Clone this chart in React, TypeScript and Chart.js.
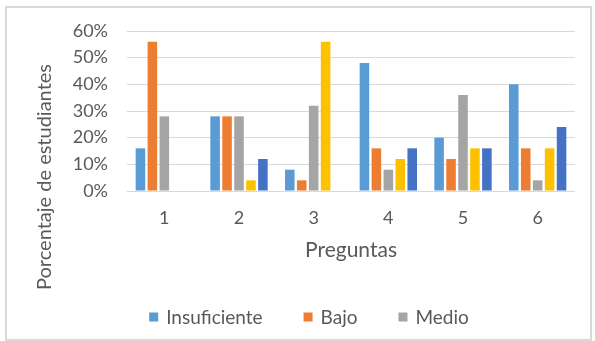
import React, { useEffect, useRef } from "react";
import { Chart, registerables } from "chart.js";

Chart.register(...registerables);

const categories = ["1", "2", "3", "4", "5", "6"];
const seriesNames = ["Insuficiente", "Bajo", "Medio", "Alto", "Superior"];
const insuficiente = [16, 28, 8, 48, 20, 40];
const bajo = [56, 28, 4, 16, 12, 16];
const medio = [28, 28, 32, 8, 36, 4];
const alto = [0, 4, 56, 12, 16, 16];
const superior = [0, 12, 0, 16, 16, 24];
const legendShown = ["Insuficiente", "Bajo", "Medio"];
const yTitle = "Porcentaje de estudiantes";
const xTitle = "Preguntas";
const colors = ["#5B9BD5", "#ED7D31", "#A5A5A5", "#FFC000", "#4472C4"];

const FONT = "Lato, 'Open Sans', sans-serif";
const TXT = "#595959";

export default function App() {
  const ref = useRef<HTMLCanvasElement | null>(null);
  useEffect(() => {
    document.body.style.margin = "0";
    const canvas = ref.current!;
    const values = [insuficiente, bajo, medio, alto, superior];
    const frame = {
      id: "frame",
      beforeDraw(chart: any) {
        const c = chart.ctx;
        c.save();
        c.fillStyle = "#ffffff";
        c.fillRect(0, 0, chart.width, chart.height);
        c.strokeStyle = "#D9D9D9";
        c.lineWidth = 2;
        c.strokeRect(6, 7, chart.width - 10, chart.height - 8);
        c.restore();
      },
    };
    const extras = {
      id: "extras",
      afterDraw(chart: any) {
        const c = chart.ctx;
        c.save();
        // y axis title
        c.font = `20px ${FONT}`;
        c.fillStyle = TXT;
        c.textAlign = "center";
        c.textBaseline = "middle";
        c.translate(45, 177);
        c.rotate(-Math.PI / 2);
        c.fillText(yTitle, 0, 0);
        c.restore();

        c.save();
        c.font = `19px ${FONT}`;
        c.textBaseline = "middle";
        c.textAlign = "left";
        const box = 9;
        const gapText = 8;
        const gapItem = 41;
        const items = chart.data.datasets.filter((d: any) => legendShown.includes(d.label));
        const widths = items.map((d: any) => box + gapText + c.measureText(d.label).width);
        const total = widths.reduce((a: number, b: number) => a + b, 0) + gapItem * (items.length - 1);
        let x = 309 - total / 2;
        const y = 317;
        items.forEach((d: any, i: number) => {
          c.fillStyle = d.backgroundColor;
          c.fillRect(x, y - box / 2, box, box);
          c.fillStyle = TXT;
          c.fillText(d.label, x + box + gapText, y + 1);
          x += widths[i] + gapItem;
        });
        c.restore();
      },
    };
    const chart = new Chart(canvas, {
      type: "bar",
      data: {
        labels: categories,
        datasets: seriesNames.map((name, i) => ({
          label: name,
          data: values[i],
          backgroundColor: colors[i],
          borderWidth: 0,
          categoryPercentage: 0.8,
          barPercentage: 0.8,
        })),
      },
      options: {
        animation: false,
        responsive: false,
        maintainAspectRatio: false,
        layout: { padding: { left: 0, right: 20, top: 31, bottom: 71 } },
        plugins: {
          legend: { display: false },
          tooltip: { enabled: false },
        },
        scales: {
          x: {
            grid: { display: false, drawTicks: false },
            border: { display: false },
            ticks: { color: TXT, font: { family: FONT, size: 18 }, padding: 16 },
            title: {
              display: true,
              text: xTitle,
              color: TXT,
              font: { family: FONT, size: 21 },
              padding: { top: 0, bottom: 7 },
            },
            afterFit(scale: any) {
              scale.height = 79;
            },
          },
          y: {
            min: 0,
            max: 60,
            ticks: {
              stepSize: 10,
              color: TXT,
              font: { family: FONT, size: 18 },
              padding: 19,
              callback: (v: any) => v + "%",
            },
            grid: { color: "#D9D9D9", lineWidth: 1, drawTicks: false },
            border: { display: false },
            afterFit(scale: any) {
              scale.width = 127;
            },
          },
        },
      },
      plugins: [frame, extras],
    });
    return () => chart.destroy();
  }, []);
  return <canvas ref={ref} width={595} height={341} style={{ display: "block" }} />;
}
